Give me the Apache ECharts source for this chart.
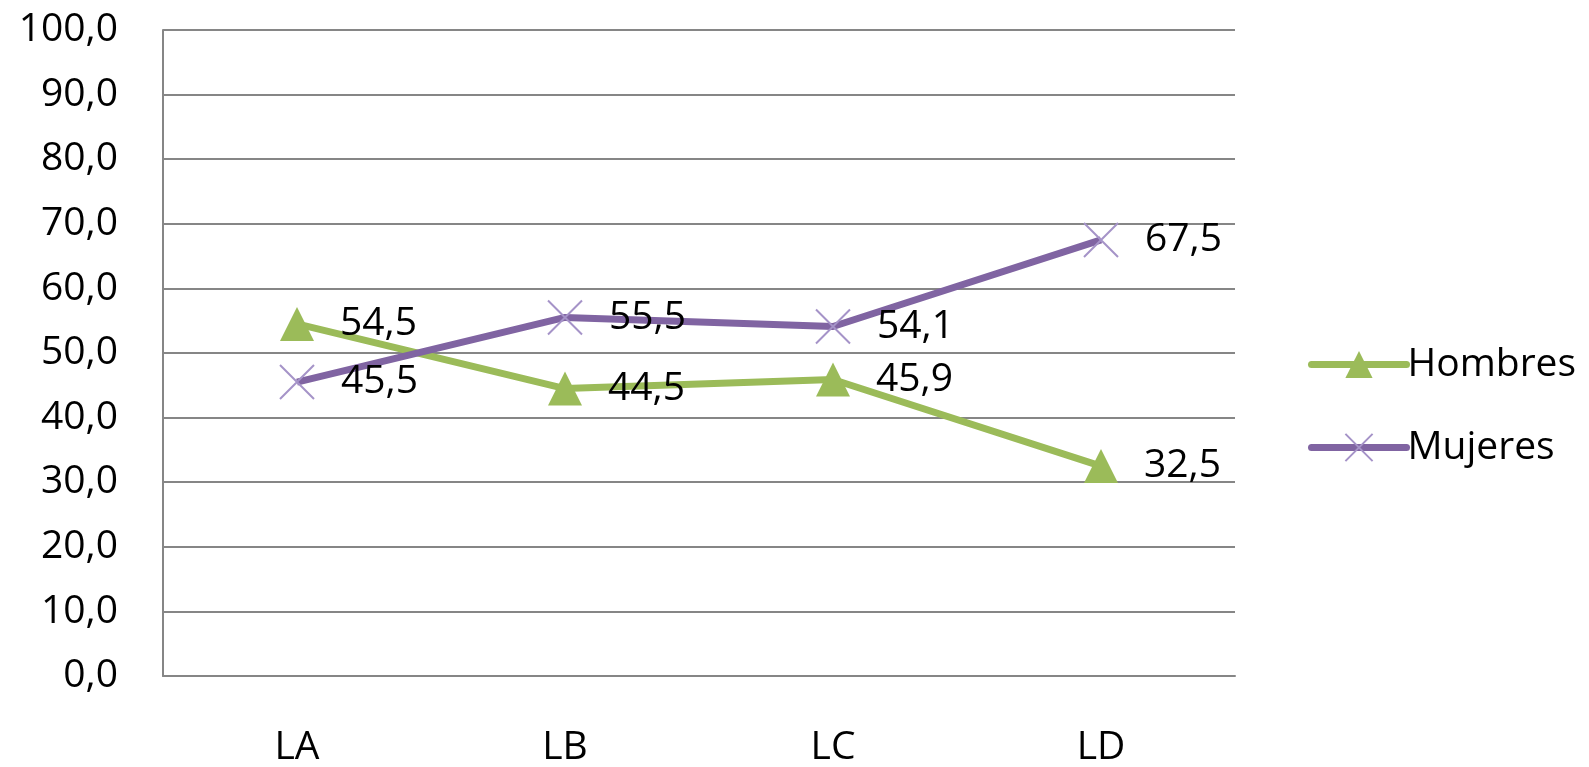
<!DOCTYPE html>
<html><head><meta charset="utf-8">
<script src="https://cdn.jsdelivr.net/npm/echarts@6/dist/echarts.min.js"></script>
<style>html,body{margin:0;padding:0;background:#fff}#c{width:1589px;height:767px}</style>
</head><body><div id="c"></div>
<script>
const categories = ['LA', 'LB', 'LC', 'LD'];
const hombres = [54.5, 44.5, 45.9, 32.5];
const mujeres = [45.5, 55.5, 54.1, 67.5];
const yTicks = { min: 0, max: 100, interval: 10 };

const FONT = 'Open Sans';
const FS = 39;
const fmt = v => Number(v).toFixed(1).replace('.', ',');
const chart = echarts.init(document.getElementById('c'));
chart.setOption({
  animation: false,
  backgroundColor: '#fff',
  textStyle: { fontFamily: FONT },
  grid: { left: 163, right: 354, top: 30, bottom: 90 },
  legend: {
    orient: 'vertical', left: 1303, top: 340,
    itemWidth: 95, itemHeight: 34, itemGap: 44,
    textStyle: { fontFamily: FONT, fontSize: FS, color: '#000', padding: [0,0,0,-4] },
    data: [
      { name: 'Hombres', lineStyle: { width: 7, cap: 'round' } },
      { name: 'Mujeres', lineStyle: { width: 7, cap: 'round' } }
    ]
  },
  xAxis: {
    type: 'category', data: categories, boundaryGap: true,
    axisLine: { lineStyle: { color: '#868686', width: 2 } },
    axisTick: { show: false },
    axisLabel: { fontFamily: FONT, fontSize: FS, color: '#000', margin: 52 }
  },
  yAxis: {
    type: 'value', min: yTicks.min, max: yTicks.max, interval: yTicks.interval,
    axisLine: { show: true, lineStyle: { color: '#868686', width: 2 } },
    axisTick: { show: false },
    splitLine: { lineStyle: { color: '#868686', width: 2 } },
    axisLabel: { fontFamily: FONT, fontSize: FS, color: '#000', margin: 45, formatter: fmt }
  },
  series: [
    {
      name: 'Hombres', type: 'line', data: hombres,
      symbol: 'triangle', symbolSize: 34,
      lineStyle: { color: '#9BBB59', width: 7 },
      itemStyle: { color: '#9BBB59' },
      label: { show: true, position: 'right', distance: 26, fontFamily: FONT, fontSize: FS, color: '#000', formatter: p => fmt(p.value) }
    },
    {
      name: 'Mujeres', type: 'line', data: mujeres,
      symbol: 'path://M0,0L10,10M10,0L0,10', symbolSize: 34,
      lineStyle: { color: '#8064A2', width: 7 },
      itemStyle: { color: 'rgba(0,0,0,0)', borderColor: '#A593C8', borderWidth: 2 },
      label: { show: true, position: 'right', distance: 26, fontFamily: FONT, fontSize: FS, color: '#000', formatter: p => fmt(p.value) }
    }
  ]
});
</script></body></html>
